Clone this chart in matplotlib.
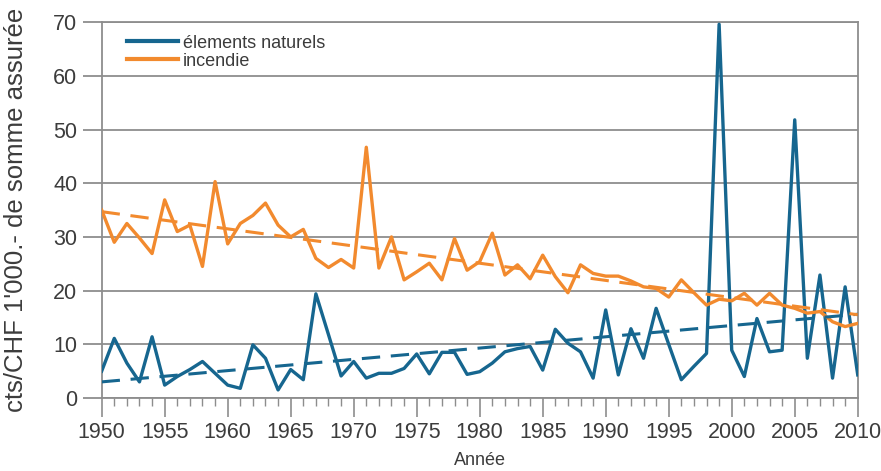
import numpy as np
import matplotlib
matplotlib.use('Agg')
import matplotlib.pyplot as plt
from matplotlib.ticker import MultipleLocator

years = list(range(1950, 2011))

# elements naturels, cts per CHF 1'000 insured
natural = [5.0, 11.1, 6.5, 3.0, 11.4, 2.4, 4.0, 5.3, 6.8, 4.6,
           2.4, 1.8, 9.9, 7.4, 1.5, 5.3, 3.4, 19.4, 11.8, 4.1,
           6.8, 3.7, 4.6, 4.6, 5.5, 8.2, 4.5, 8.5, 8.5, 4.4,
           4.9, 6.5, 8.6, 9.2, 9.6, 5.2, 12.8, 10.2, 8.6, 3.7,
           16.4, 4.3, 12.9, 7.4, 16.7, 10.0, 3.4, 5.9, 8.3, 69.6,
           8.9, 4.0, 14.8, 8.6, 8.9, 51.8, 7.4, 22.9, 3.7, 20.7,
           4.3]

# incendie
fire = [35.0, 29.0, 32.5, 29.8, 26.9, 36.9, 31.0, 32.2, 24.5, 40.3,
        28.7, 32.5, 34.0, 36.3, 32.2, 30.0, 31.4, 26.0, 24.3, 25.8,
        24.2, 46.7, 24.2, 30.0, 22.0, 23.5, 25.1, 22.0, 29.7, 23.8,
        25.4, 30.7, 22.9, 24.8, 22.2, 26.6, 22.6, 19.6, 24.8, 23.2,
        22.7, 22.7, 21.8, 20.7, 20.4, 18.8, 22.0, 19.6, 17.3, 18.4,
        18.1, 19.5, 17.3, 19.5, 17.3, 16.7, 15.8, 16.1, 14.2, 13.3,
        13.9]

# linear trends (end points)
trend_years = [1950, 2010]
natural_trend = [3.0, 15.6]
fire_trend = [34.7, 15.5]

blue = '#16668f'
orange = '#f28a2e'
grey = '#8d8d8d'
text_col = '#3c3c3c'
sans = ['Liberation Sans', 'DejaVu Sans']

fig = plt.figure(figsize=(8.81, 4.71), dpi=100)
ax = fig.add_axes([0.1154, 0.155, 0.8582, 0.798])

ax.plot(years, natural, color=blue, lw=2.4, label='élements naturels', zorder=3)
ax.plot(years, fire, color=orange, lw=2.4, label='incendie', zorder=3)
ax.plot(trend_years, natural_trend, color=blue, lw=2.2, ls=(0, (6, 3.5)), zorder=3)
ax.plot(trend_years, fire_trend, color=orange, lw=2.2, ls=(0, (6, 3.5)), zorder=3)

ax.set_xlim(1950, 2010)
ax.set_ylim(0, 70)
ax.xaxis.set_major_locator(MultipleLocator(5))
ax.xaxis.set_minor_locator(MultipleLocator(1))
ax.yaxis.set_major_locator(MultipleLocator(10))

ax.grid(axis='y', color=grey, lw=1.3, zorder=1)
for s in ax.spines.values():
    s.set_color(grey)
    s.set_linewidth(1.3)

ax.tick_params(axis='x', which='major', length=14, width=1.2, color=grey, direction='out')
ax.tick_params(axis='x', which='minor', length=6, width=1.0, color=grey, direction='out')
ax.tick_params(axis='y', which='major', length=14, width=1.3, color=grey, direction='out')
ax.tick_params(labelcolor=text_col)

for lab in ax.get_xticklabels() + ax.get_yticklabels():
    lab.set_family(sans)
    lab.set_fontsize(15.5)

ax.set_xlabel('Année', family=sans, fontsize=13, color=text_col, labelpad=6)
ax.set_ylabel("cts/CHF 1'000.- de somme assurée", family=sans,
              fontsize=18.5, color=text_col, labelpad=4)
ax.yaxis.set_label_coords(-0.097, 0.5)

leg = ax.legend(loc='upper left', bbox_to_anchor=(0.012, 1.01), frameon=False,
                handlelength=2.8, handletextpad=0.3, labelspacing=0.05,
                prop={'family': sans, 'size': 13})
for t in leg.get_texts():
    t.set_color(text_col)
for h in leg.get_lines():
    h.set_linewidth(3)

fig.savefig('out.png', dpi=100)
